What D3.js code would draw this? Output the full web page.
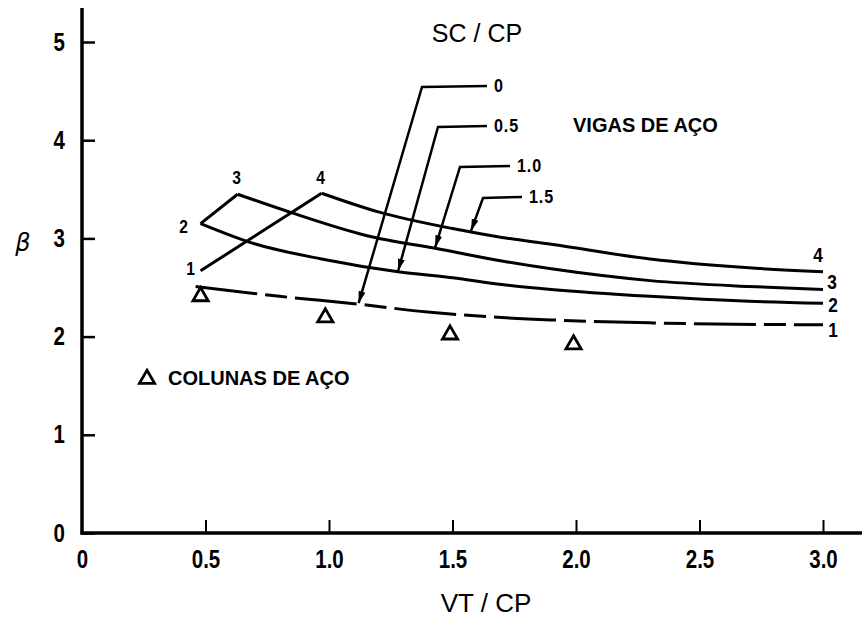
<!DOCTYPE html>
<html>
<head>
<meta charset="utf-8">
<script src="https://cdn.jsdelivr.net/npm/d3@7"></script>
<style>
body { margin: 0; background: #fff; }
svg { display: block; }
.num { font-family: 'Liberation Sans', Arial, sans-serif; font-weight: bold; }
.lbl { font-family: 'Liberation Sans', Arial, sans-serif; }
</style>
</head>
<body>
<svg width="864" height="620"></svg>
<script>
var xTicks = [0, 0.5, 1.0, 1.5, 2.0, 2.5, 3.0]
var xTickLabels = ['0', '0.5', '1.0', '1.5', '2.0', '2.5', '3.0']
var yTicks = [0, 1, 2, 3, 4, 5]

// vigas de aco, one curve per SC/CP value  [VT/CP, beta]
var sc00 = [[0.46, 2.51], [0.8, 2.41], [1.12, 2.33], [1.4, 2.25], [1.66, 2.20], [1.9, 2.17], [2.3, 2.14], [3.0, 2.12]]
var sc05 = [[0.48, 3.15], [0.68, 2.96], [0.97, 2.79], [1.28, 2.66], [1.5, 2.60], [1.7, 2.53], [1.9, 2.48], [2.3, 2.41], [2.7, 2.36], [3.0, 2.34]]
var sc10 = [[0.63, 3.45], [0.85, 3.26], [1.15, 3.03], [1.45, 2.89], [1.7, 2.77], [1.9, 2.69], [2.3, 2.57], [2.7, 2.51], [3.0, 2.48]]
var sc15 = [[0.97, 3.46], [1.2, 3.27], [1.5, 3.10], [1.7, 3.01], [1.9, 2.94], [2.3, 2.79], [2.7, 2.70], [3.0, 2.66]]
var curveNames = ['1', '2', '3', '4']
var scValues = ['0', '0.5', '1.0', '1.5']

// straight pieces at the left: point 1 -> point 4, point 2 -> point 3
var rise14 = [[0.48, 2.67], [0.97, 3.46]]
var rise23 = [[0.48, 3.15], [0.63, 3.45]]

// colunas de aco
var colunas = [[0.48, 2.41], [0.985, 2.195], [1.49, 2.02], [1.99, 1.92]]

// where the SC/CP arrows hit each curve
var arrowAt = [1.12, 1.28, 1.43, 1.575]

var svg = d3.select('svg')

var x = d3.scaleLinear().domain([0, 3]).range([82, 823])
var y = d3.scaleLinear().domain([0, 5]).range([533, 42])

var ink = '#000'

// condensed look for the digits: squeeze text horizontally
function squeeze(sel, k) {
  sel.each(function() {
    var t = d3.select(this)
    var tx = +t.attr('x') || 0
    t.attr('x', tx / k).attr('transform', 'scale(' + k + ',1)')
  })
}

// axes
svg.append('line')
  .attr('x1', x(0)).attr('x2', x(0))
  .attr('y1', 8).attr('y2', y(0) + 1.5)
  .attr('stroke', ink).attr('stroke-width', 3.5)
svg.append('line')
  .attr('x1', x(0) - 1.5).attr('x2', 862)
  .attr('y1', y(0)).attr('y2', y(0))
  .attr('stroke', ink).attr('stroke-width', 3.5)

var yAxis = svg.append('g')
  .attr('transform', 'translate(' + x(0) + ',0)')
  .call(d3.axisLeft(y).tickValues(yTicks).tickSize(-13).tickPadding(17).tickFormat(d3.format('d')))
yAxis.select('.domain').remove()
yAxis.selectAll('.tick line').attr('stroke', ink).attr('stroke-width', 2.5)
yAxis.selectAll('.tick text').attr('class', 'num').attr('font-size', 25).attr('fill', ink)
  .attr('font-family', null)
squeeze(yAxis.selectAll('.tick text'), 0.82)

var xAxis = svg.append('g')
  .attr('transform', 'translate(0,' + y(0) + ')')
  .call(d3.axisBottom(x).tickValues(xTicks).tickSize(-13).tickPadding(17)
    .tickFormat(function(d, i) { return xTickLabels[i] }))
xAxis.select('.domain').remove()
xAxis.selectAll('.tick line').attr('stroke', ink).attr('stroke-width', 2)
xAxis.selectAll('.tick').filter(function(d) { return d === 0 }).select('line').remove()
xAxis.selectAll('.tick text').attr('class', 'num').attr('font-size', 25).attr('fill', ink)
  .attr('font-family', null)
squeeze(xAxis.selectAll('.tick text'), 0.82)

// titles
svg.append('text').attr('class', 'lbl')
  .attr('x', 477).attr('y', 42).attr('text-anchor', 'middle')
  .attr('font-size', 25).text('SC / CP')
svg.append('text').attr('class', 'lbl')
  .attr('x', 486).attr('y', 612).attr('text-anchor', 'middle')
  .attr('font-size', 26).text('VT / CP')
svg.append('text')
  .attr('x', 23).attr('y', 251).attr('text-anchor', 'middle')
  .attr('font-family', 'DejaVu Sans, sans-serif').attr('font-style', 'italic')
  .attr('font-size', 24).text('β')
svg.append('text').attr('class', 'lbl')
  .attr('x', 573).attr('y', 132).attr('font-weight', 'bold')
  .attr('font-size', 20).text('VIGAS DE AÇO')

// curves
var line = d3.line()
  .x(function(d) { return x(d[0]) })
  .y(function(d) { return y(d[1]) })
  .curve(d3.curveMonotoneX)

var curves = [sc00, sc05, sc10, sc15]

svg.append('g')
  .selectAll('path.curve')
  .data(curves)
  .enter()
  .append('path')
  .classed('curve', true)
  .attr('d', line)
  .attr('fill', 'none')
  .attr('stroke', ink)
  .attr('stroke-width', 3)
  .attr('stroke-dasharray', function(d, i) { return i === 0 ? '62,8,22,8' : null })

svg.append('g')
  .selectAll('path.rise')
  .data([rise14, rise23])
  .enter()
  .append('path')
  .classed('rise', true)
  .attr('d', line.curve(d3.curveLinear))
  .attr('fill', 'none')
  .attr('stroke', ink)
  .attr('stroke-width', 3)
  .attr('stroke-linejoin', 'miter')

// curve number labels at the right end
var endOffset = [[10, 5], [10, 2], [9, -8], [-5, -17]]
var endLabels = svg.append('g')
  .selectAll('text')
  .data(curves)
  .enter()
  .append('text')
  .attr('class', 'num')
  .attr('font-size', 21)
  .attr('text-anchor', 'middle')
  .attr('dominant-baseline', 'central')
  .attr('x', function(d, i) { return x(d[d.length - 1][0]) + endOffset[i][0] })
  .attr('y', function(d, i) { return y(d[d.length - 1][1]) + endOffset[i][1] })
  .text(function(d, i) { return curveNames[i] })
squeeze(endLabels, 0.82)

// point labels at the left
var leftPts = [rise14[0], rise23[0], rise23[1], rise14[1]]
var leftOffset = [[-10, -2], [-17, 3], [-1, -17], [-1, -16]]
var leftLabels = svg.append('g')
  .selectAll('text')
  .data(leftPts)
  .enter()
  .append('text')
  .attr('class', 'num')
  .attr('font-size', 19)
  .attr('text-anchor', 'middle')
  .attr('dominant-baseline', 'central')
  .attr('x', function(d, i) { return x(d[0]) + leftOffset[i][0] })
  .attr('y', function(d, i) { return y(d[1]) + leftOffset[i][1] })
  .text(function(d, i) { return curveNames[i] })
squeeze(leftLabels, 0.82)

// arrows from SC/CP values to the curves
svg.append('defs').append('marker')
  .attr('id', 'head')
  .attr('markerUnits', 'userSpaceOnUse')
  .attr('viewBox', '0 -4 12 8')
  .attr('refX', 12).attr('refY', 0)
  .attr('markerWidth', 12).attr('markerHeight', 8)
  .attr('orient', 'auto')
  .append('path')
  .attr('d', 'M0,-3.5L12,0L0,3.5Z')
  .attr('fill', ink)

function valueAt(c, vx) {
  var i = d3.bisector(function(d) { return d[0] }).left(c, vx)
  var a = c[i - 1], b = c[i]
  return a[1] + (b[1] - a[1]) * (vx - a[0]) / (b[0] - a[0])
}

// leader layout in pixels: corner x, corner y, end of horizontal
var leaders = [[422, 87, 487], [438, 127, 487], [460, 167, 510], [483, 198, 522]]

var arrows = svg.append('g')
leaders.forEach(function(l, i) {
  var tx = x(arrowAt[i]), ty = y(valueAt(curves[i], arrowAt[i]))
  arrows.append('path')
    .attr('d', 'M' + l[2] + ',' + (l[1] - 1) + 'L' + l[0] + ',' + l[1] + 'L' + tx + ',' + (ty - 1))
    .attr('fill', 'none')
    .attr('stroke', ink)
    .attr('stroke-width', 2.5)
    .attr('marker-end', 'url(#head)')
  var t = arrows.append('text')
    .attr('class', 'num')
    .attr('font-size', 19)
    .attr('dominant-baseline', 'central')
    .attr('x', l[2] + 7)
    .attr('y', l[1] - 1)
    .attr('letter-spacing', 1)
    .text(scValues[i])
  squeeze(t, 0.85)
})

// colunas de aco markers
var tri = d3.symbol().type(d3.symbolTriangle).size(100)
svg.append('g')
  .selectAll('path')
  .data(colunas)
  .enter()
  .append('path')
  .attr('d', tri)
  .attr('transform', function(d) { return 'translate(' + x(d[0]) + ',' + y(d[1]) + ')' })
  .attr('fill', 'none')
  .attr('stroke', ink)
  .attr('stroke-width', 2.8)

// legend
svg.append('path')
  .attr('d', tri)
  .attr('transform', 'translate(147,379)')
  .attr('fill', 'none')
  .attr('stroke', ink)
  .attr('stroke-width', 2.8)
svg.append('text').attr('class', 'lbl')
  .attr('x', 168).attr('y', 385).attr('font-weight', 'bold')
  .attr('font-size', 20).text('COLUNAS DE AÇO')
</script>
</body>
</html>
